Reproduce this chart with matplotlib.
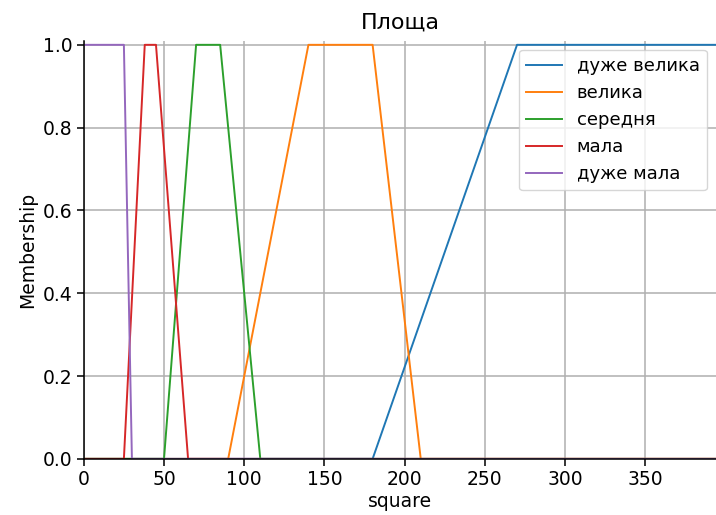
import numpy as np
import matplotlib.pyplot as plt

# universe of discourse
x_max = 394
universe = np.arange(0, x_max + 1, 1)

# trapezoid parameters (a, b, c, d) for each term
labels = ['дуже велика', 'велика', 'середня', 'мала', 'дуже мала']
params = [
    [180, 270, x_max, x_max],
    [90, 140, 180, 210],
    [50, 70, 85, 110],
    [25, 38, 45, 65],
    [0, 0, 25, 30],
]


def trapmf(x, p):
    a, b, c, d = p
    y = np.zeros_like(x, dtype=float)
    # rising edge
    if b > a:
        m = (x >= a) & (x < b)
        y[m] = (x[m] - a) / (b - a)
    # flat top
    y[(x >= b) & (x <= c)] = 1.0
    # falling edge
    if d > c:
        m = (x > c) & (x <= d)
        y[m] = (d - x[m]) / (d - c)
    return y


s = 1.39  # picture looks like a 72 dpi plot blown up
plt.rcParams['font.size'] = 13.5
plt.rcParams['axes.linewidth'] = 0.8 * s
plt.rcParams['xtick.major.size'] = 3.5 * s
plt.rcParams['ytick.major.size'] = 3.5 * s
plt.rcParams['xtick.major.width'] = 0.8 * s
plt.rcParams['ytick.major.width'] = 0.8 * s
plt.rcParams['grid.linewidth'] = 0.8 * s

fig = plt.figure(figsize=(7.16, 5.15), dpi=100)
ax = fig.add_axes([0.117, 0.109, 0.883, 0.812])

for lab, p in zip(labels, params):
    ax.plot(universe, trapmf(universe, p), linewidth=1.4, label=lab)

ax.set_xlim(0, x_max)
ax.set_ylim(0, 1.01)
ax.set_title('Площа', fontsize=16, pad=9)
ax.set_xlabel('square', labelpad=2)
ax.set_ylabel('Membership')
ax.grid(True)
ax.spines['top'].set_visible(False)
ax.spines['right'].set_visible(False)
ax.legend(loc='upper right', fontsize=13, framealpha=0.8)

fig.savefig('out.png', dpi=100)
